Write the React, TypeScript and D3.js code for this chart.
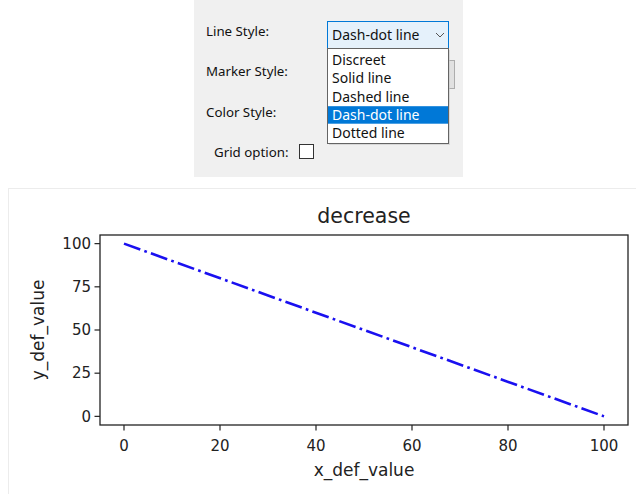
import React from "react";
import * as d3 from "d3";

// ---- data ----
const xValues = [0, 100];
const yValues = [100, 0];
const xTicks = [0, 20, 40, 60, 80, 100];
const yTicks = [0, 25, 50, 75, 100];
const chartTitle = "decrease";
const xLabel = "x_def_value";
const yLabel = "y_def_value";

const dialogLabels = ["Line Style:", "Marker Style:", "Color Style:"];
const gridLabel = "Grid option:";
const lineStyleOptions = ["Discreet", "Solid line", "Dashed line", "Dash-dot line", "Dotted line"];
const selectedOption = "Dash-dot line";

const W = 636;
const H = 494;

export default function App() {
  // axes frame
  const frame = { left: 100, right: 628, top: 235, bottom: 425 };
  const x = d3.scaleLinear().domain([-5, 105]).range([frame.left, frame.right]);
  const y = d3.scaleLinear().domain([-5, 105]).range([frame.bottom, frame.top]);
  const pts = xValues.map((v, i) => [v, yValues[i]] as [number, number]);
  const line = d3
    .line<[number, number]>()
    .x((d) => x(d[0]))
    .y((d) => y(d[1]));

  const chartFont = "DejaVu Sans, sans-serif";
  const uiFont = "'Noto Sans', 'Open Sans', sans-serif";

  // dialog geometry
  const labelX = 206;
  const labelBaselines = [36, 76, 117];
  const combo = { x: 327, y: 21, w: 121, h: 27 };
  const list = { x: 327, y: 48, w: 121, h: 95 };
  const itemH = 18.3;
  const itemTop = 52;

  return (
    <div style={{ position: "fixed", left: 0, top: 0, width: W, height: H, background: "#fff" }}>
      <svg width={W} height={H} viewBox={`0 0 ${W} ${H}`} style={{ display: "block" }}>
        <rect x={0} y={0} width={W} height={H} fill="#ffffff" />

        {/* ---- dialog screenshot ---- */}
        <rect x={194} y={0} width={269} height={177} fill="#f0f0f0" />
        {dialogLabels.map((t, i) => (
          <text key={t} x={labelX} y={labelBaselines[i]} fontFamily={uiFont} fontSize={13.3} fill="#111">
            {t}
          </text>
        ))}
        <text x={214} y={157} fontFamily={uiFont} fontSize={13.3} fill="#111">
          {gridLabel}
        </text>
        <rect x={299.5} y={144.5} width={14} height={14} fill="#fff" stroke="#333" strokeWidth={1} />

        {/* hidden marker combobox edge */}
        <rect x={330.5} y={60.5} width={124} height={28} fill="#e1e1e1" stroke="#adadad" strokeWidth={1} />

        {/* line style combobox */}
        <rect
          x={combo.x + 0.5}
          y={combo.y + 0.5}
          width={combo.w}
          height={combo.h}
          fill="#e5f1fb"
          stroke="#0078d7"
          strokeWidth={1}
        />
        <text x={332} y={40} fontFamily={uiFont} fontSize={14} fill="#111">
          {selectedOption}
        </text>
        <path d="M436,33 l4,4 l4,-4" fill="none" stroke="#555" strokeWidth={1} />

        {/* dropdown list */}
        <rect x={list.x + 2} y={list.y + 2} width={list.w} height={list.h} fill="#c8c8c8" opacity={0.6} />
        <rect
          x={list.x + 0.5}
          y={list.y + 0.5}
          width={list.w}
          height={list.h}
          fill="#ffffff"
          stroke="#646464"
          strokeWidth={1}
        />
        {lineStyleOptions.map((t, i) => {
          const sel = t === selectedOption;
          const top = itemTop + i * itemH;
          return (
            <g key={t}>
              {sel && <rect x={list.x + 1} y={top - 0.7} width={list.w - 1} height={17.5} fill="#0078d7" />}
              <text x={332} y={top + 13} fontFamily={uiFont} fontSize={14} fill={sel ? "#fff" : "#111"}>
                {t}
              </text>
            </g>
          );
        })}

        {/* ---- chart panel ---- */}
        <rect x={8.5} y={188.5} width={640} height={320} fill="#fff" stroke="#ececec" strokeWidth={1} />

        <text x={(frame.left + frame.right) / 2} y={223} textAnchor="middle" fontFamily={chartFont} fontSize={20.5} fill="#222">
          {chartTitle}
        </text>

        <path d={line(pts) || ""} fill="none" stroke="#1a10f0" strokeWidth={2.6} strokeDasharray="17.3 4.3 2.7 4.3" />

        <rect
          x={frame.left}
          y={frame.top}
          width={frame.right - frame.left}
          height={frame.bottom - frame.top}
          fill="none"
          stroke="#222"
          strokeWidth={1.3}
        />

        {yTicks.map((t) => (
          <g key={"y" + t}>
            <line x1={frame.left - 5.5} x2={frame.left} y1={y(t)} y2={y(t)} stroke="#222" strokeWidth={1.2} />
            <text x={frame.left - 9} y={y(t) + 5.3} textAnchor="end" fontFamily={chartFont} fontSize={15} fill="#222">
              {t}
            </text>
          </g>
        ))}
        {xTicks.map((t) => (
          <g key={"x" + t}>
            <line x1={x(t)} x2={x(t)} y1={frame.bottom} y2={frame.bottom + 5.5} stroke="#222" strokeWidth={1.2} />
            <text x={x(t)} y={451} textAnchor="middle" fontFamily={chartFont} fontSize={15} fill="#222">
              {t}
            </text>
          </g>
        ))}

        <text x={(frame.left + frame.right) / 2} y={476} textAnchor="middle" fontFamily={chartFont} fontSize={17} fill="#222">
          {xLabel}
        </text>
        <text
          transform={`translate(44,${(frame.top + frame.bottom) / 2}) rotate(-90)`}
          textAnchor="middle"
          fontFamily={chartFont}
          fontSize={17}
          fill="#222"
        >
          {yLabel}
        </text>
      </svg>
    </div>
  );
}
